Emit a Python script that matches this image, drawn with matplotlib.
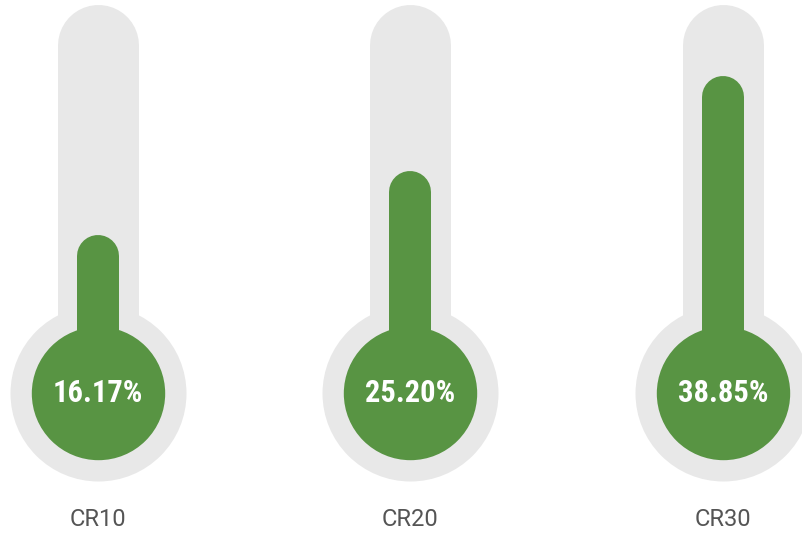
import matplotlib
matplotlib.use("Agg")
import os
import matplotlib.pyplot as plt
from matplotlib import font_manager
from matplotlib.font_manager import FontProperties

# ---- data ----
categories = ["CR10", "CR20", "CR30"]
values = [16.17, 25.20, 38.85]          # percent
value_labels = ["16.17%", "25.20%", "38.85%"]

# ---- style / layout constants ----
GREEN = "#589443"
GRAY = "#e8e8e8"
LABEL_COLOR = "#555555"
DPI = 100
W, H = 8.02, 5.37

# value-axis layout (in percent units)
Y_MIN, Y_MAX = -24.07, 52.72
BULB_Y = -3.42          # bulb centre
TUBE_TOP = 46.35        # gray tube top (cap centre)
CAT_LABEL_Y = -21.56

PX = 72.0 / DPI          # points per pixel

fig = plt.figure(figsize=(W, H), dpi=DPI)
ax = fig.add_axes([0, 0, 1, 1])
ax.set_xlim(-0.3118, 2.2526)
ax.set_ylim(Y_MIN, Y_MAX)
ax.axis("off")


def find_narrow_bold():
    files = font_manager.findSystemFonts() + [f.fname for f in font_manager.fontManager.ttflist]
    prefs = ["LiberationSansNarrow-Bold", "RobotoCondensed-Bold", "DejaVuSansCondensed-Bold",
             "NotoSans-CondensedBold", "OpenSans-CondensedBold", "NotoSansDisplay-CondensedBold"]
    for p in prefs:
        for f in files:
            if os.path.basename(f).startswith(p):
                return f, p
    return None, None


narrow_file, narrow_name = find_narrow_bold()
if narrow_file:
    size = {"LiberationSansNarrow-Bold": 22, "RobotoCondensed-Bold": 22}.get(narrow_name, 19)
    pct_props = FontProperties(fname=narrow_file, size=size)
else:
    pct_props = FontProperties(family="DejaVu Sans", weight="bold", size=17)

names = {f.name for f in font_manager.fontManager.ttflist}
cat_font = "Roboto" if "Roboto" in names else "DejaVu Sans"

xs = list(range(len(categories)))
for x, v, lab, cat in zip(xs, values, value_labels, categories):
    # gray background tube and bulb
    ax.plot([x, x], [BULB_Y, TUBE_TOP], color=GRAY, lw=81 * PX,
            solid_capstyle="round", zorder=1)
    ax.plot([x], [BULB_Y], marker="o", ms=176 * PX, color=GRAY,
            markeredgewidth=0, zorder=1)
    # green fill column and bulb
    ax.plot([x, x], [BULB_Y, v], color=GREEN, lw=42 * PX,
            solid_capstyle="round", zorder=2)
    ax.plot([x], [BULB_Y], marker="o", ms=133.4 * PX, color=GREEN,
            markeredgewidth=0, zorder=2)
    # value label
    ax.text(x, BULB_Y, lab, ha="center", va="center", color="white",
            fontproperties=pct_props, zorder=3)
    # category label
    ax.text(x, CAT_LABEL_Y, cat, ha="center", va="center", color=LABEL_COLOR,
            fontsize=17, family=cat_font, zorder=3)

fig.savefig("out.png", dpi=DPI, facecolor="white")
